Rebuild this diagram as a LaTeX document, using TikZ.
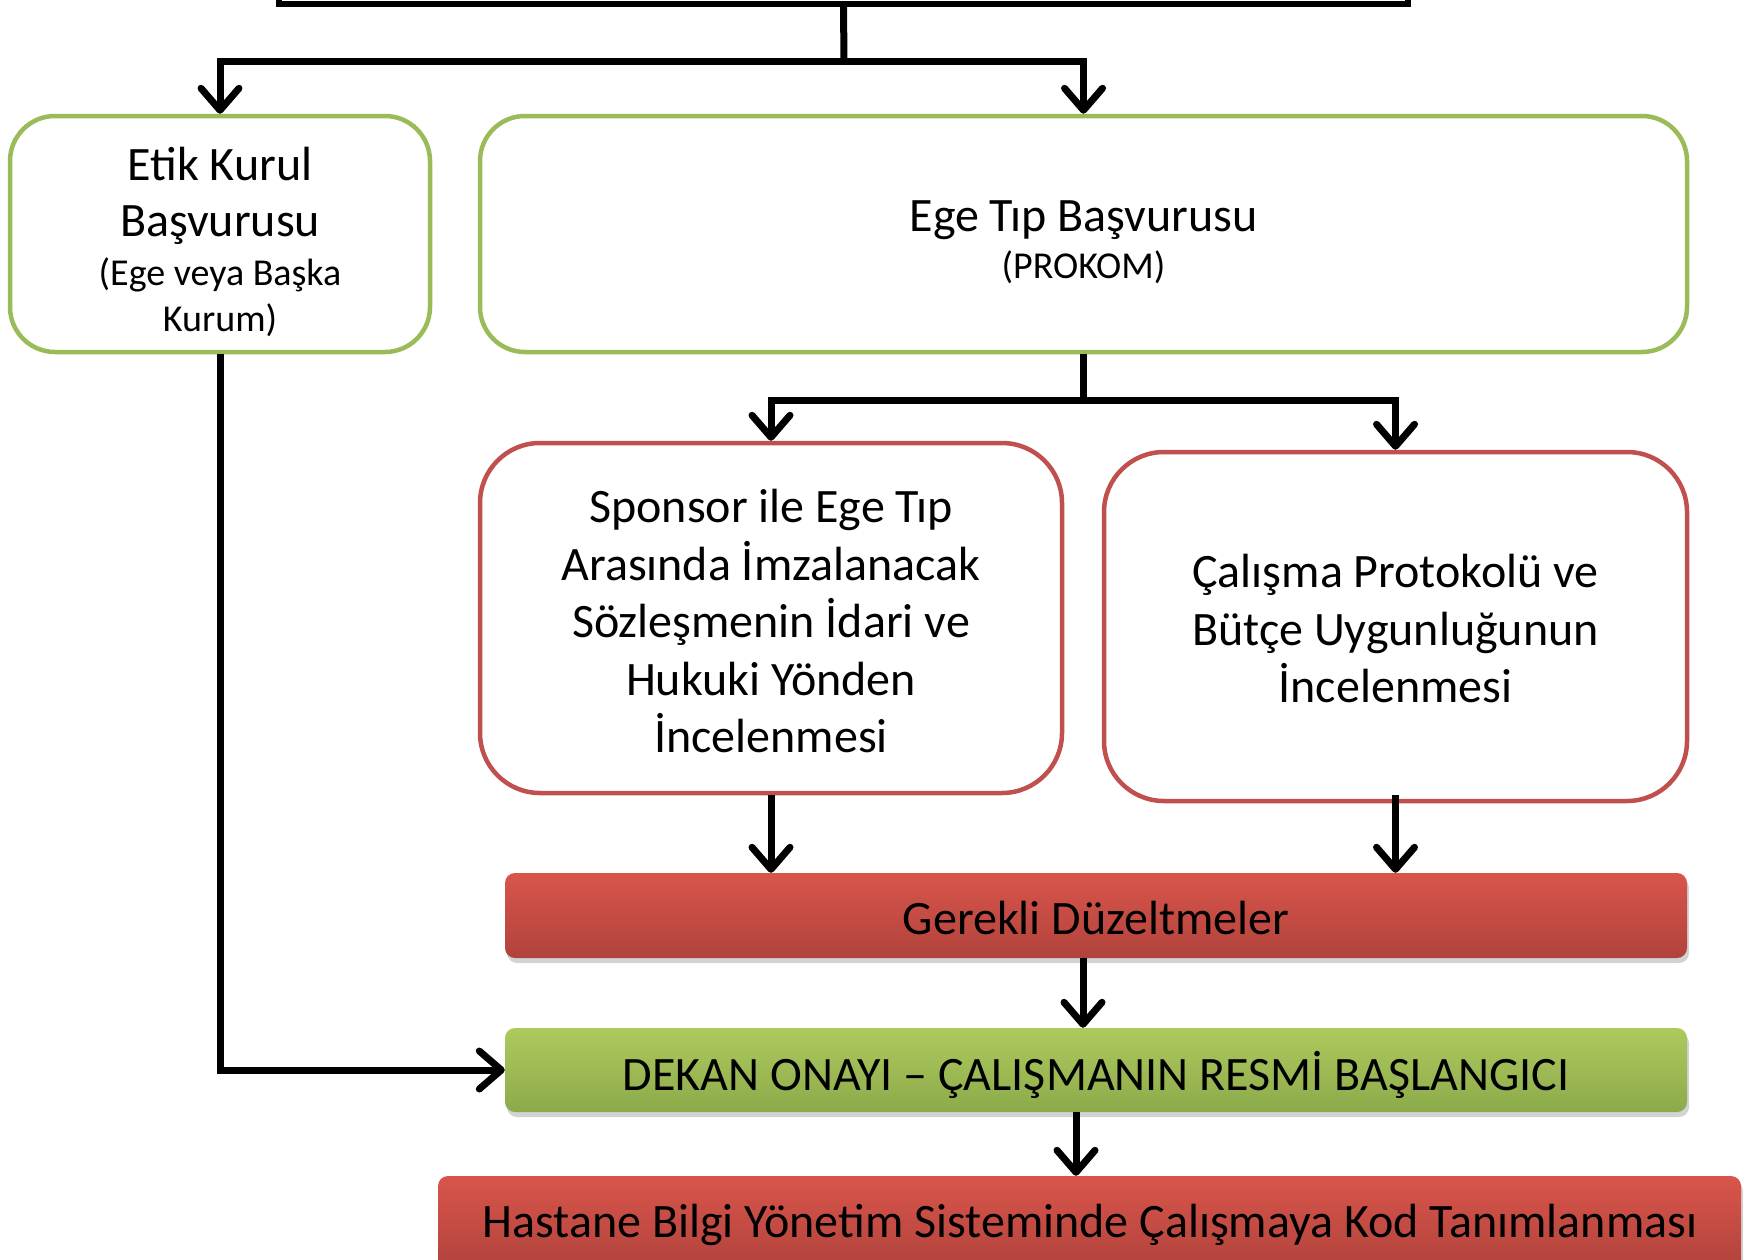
\documentclass[tikz,border=0pt]{standalone}
\usepackage{fontspec}
\setmainfont{Carlito}
\usetikzlibrary{arrows.meta,shadows}
\definecolor{ogreen}{HTML}{9BBB59}
\definecolor{ored}{HTML}{C0504D}
\definecolor{redtop}{HTML}{D9554B}
\definecolor{redbot}{HTML}{B0433C}
\definecolor{greentop}{HTML}{ADCA5E}
\definecolor{greenbot}{HTML}{8DAA4B}
\newcommand{\bigf}{\fontsize{48}{56}\selectfont}
\newcommand{\smallf}{\fontsize{38}{45}\selectfont}
\tikzset{
  gbox/.style={draw=ogreen, line width=4.5pt, rounded corners=45pt, fill=white, inner sep=0pt},
  rbox/.style={draw=ored, line width=4.5pt, rounded corners=60pt, fill=white, inner sep=0pt},
  rtext/.style={align=center, inner sep=0pt, font=\fontsize{48}{57.5}\selectfont},
  btxt/.style={anchor=base, inner sep=0pt, font=\bigf},
  stxt/.style={anchor=base, inner sep=0pt, font=\smallf},
  bartxt/.style={inner sep=0pt, font=\bigf},
  redbar/.style={rounded corners=10pt, top color=redtop, bottom color=redbot, inner sep=0pt,
     drop shadow={shadow xshift=2pt, shadow yshift=-5pt, opacity=0.35}},
  greenbar/.style={rounded corners=10pt, top color=greentop, bottom color=greenbot, inner sep=0pt,
     drop shadow={shadow xshift=2pt, shadow yshift=-5pt, opacity=0.35}},
  conn/.style={line width=7pt, black},
  arr/.style={conn, -{Straight Barb[length=22pt, width=38pt, line width=7pt, round]}},
}
\begin{document}
\begin{tikzpicture}[x=1pt, y=-1pt]
\useasboundingbox (0,0) rectangle (1756,1259);
% top (cut-off) box
\node[draw, line width=5.5pt, minimum width=1129pt, minimum height=88pt, inner sep=0pt] (top) at (843.5,-40) {};
% green outline boxes
\node[gbox, minimum width=420pt, minimum height=236pt] (etik) at (220,234) {};
\node[btxt] (etik1) at (220,180.5) {Etik Kurul};
\node[btxt] (etik2) at (220,236.5) {Başvurusu};
\node[stxt] (etik3) at (220,285.5) {(Ege veya Başka};
\node[stxt] (etik4) at (220,331.5) {Kurum)};
\node[gbox, minimum width=1207pt, minimum height=236pt] (ege) at (1083.5,234) {};
\node[btxt] (ege1) at (1083.5,231) {Ege Tıp Başvurusu};
\node[stxt] (ege2) at (1083.5,278) {(PROKOM)};
% red outline boxes
\node[rbox, minimum width=582pt, minimum height=350pt] (spons) at (771,618) {};
\node[rtext] (sponsT) at (771,621) {Sponsor ile Ege Tıp\\Arasında İmzalanacak\\Sözleşmenin İdari ve\\Hukuki Yönden\\İncelenmesi};
\node[rbox, minimum width=583pt, minimum height=349pt] (cal) at (1395.5,626.5) {};
\node[rtext] (calT) at (1395.5,628.5) {Çalışma Protokolü ve\\Bütçe Uygunluğunun\\İncelenmesi};
% filled bars
\node[redbar, minimum width=1182pt, minimum height=85pt] (gerekli) at (1096,915.5) {};
\node[bartxt] (gerekliT) at (1096,917.5) {Gerekli Düzeltmeler};
\node[greenbar, minimum width=1182pt, minimum height=84pt] (dekan) at (1096,1070) {};
\node[bartxt] (dekanT) at (1096,1074.5) {DEKAN ONAYI – ÇALIŞMANIN RESMİ BAŞLANGICI};
\node[redbar, minimum width=1303pt, minimum height=94pt] (hastane) at (1089.5,1223) {};
\node[bartxt] (hastaneT) at (1090,1225) {Hastane Bilgi Yönetim Sisteminde Çalışmaya Kod Tanımlanması};
% connectors
\coordinate (j1) at (844,61);
\coordinate (j2) at (1083.5,400);
\draw[conn] (top.south) -- (j1);
\draw[arr] (j1) -| (etik.north);
\draw[arr] (j1) -| (ege.north);
\draw[conn] (ege.south) -- (j2);
\draw[arr] (j2) -| (spons.north);
\draw[arr] (j2) -| (cal.north);
\draw[arr] (spons.south) -- (spons.south |- gerekli.north);
\draw[arr] ([yshift=8pt]cal.south) -- (cal.south |- gerekli.north);
\draw[arr] ([xshift=-13pt]gerekli.south) -- ([xshift=-13pt]dekan.north);
\draw[arr] ([xshift=-20pt]dekan.south) -- ([xshift=-20pt]dekan.south |- hastane.north);
\draw[arr] (etik.south) |- (dekan.west);
\end{tikzpicture}
\end{document}
